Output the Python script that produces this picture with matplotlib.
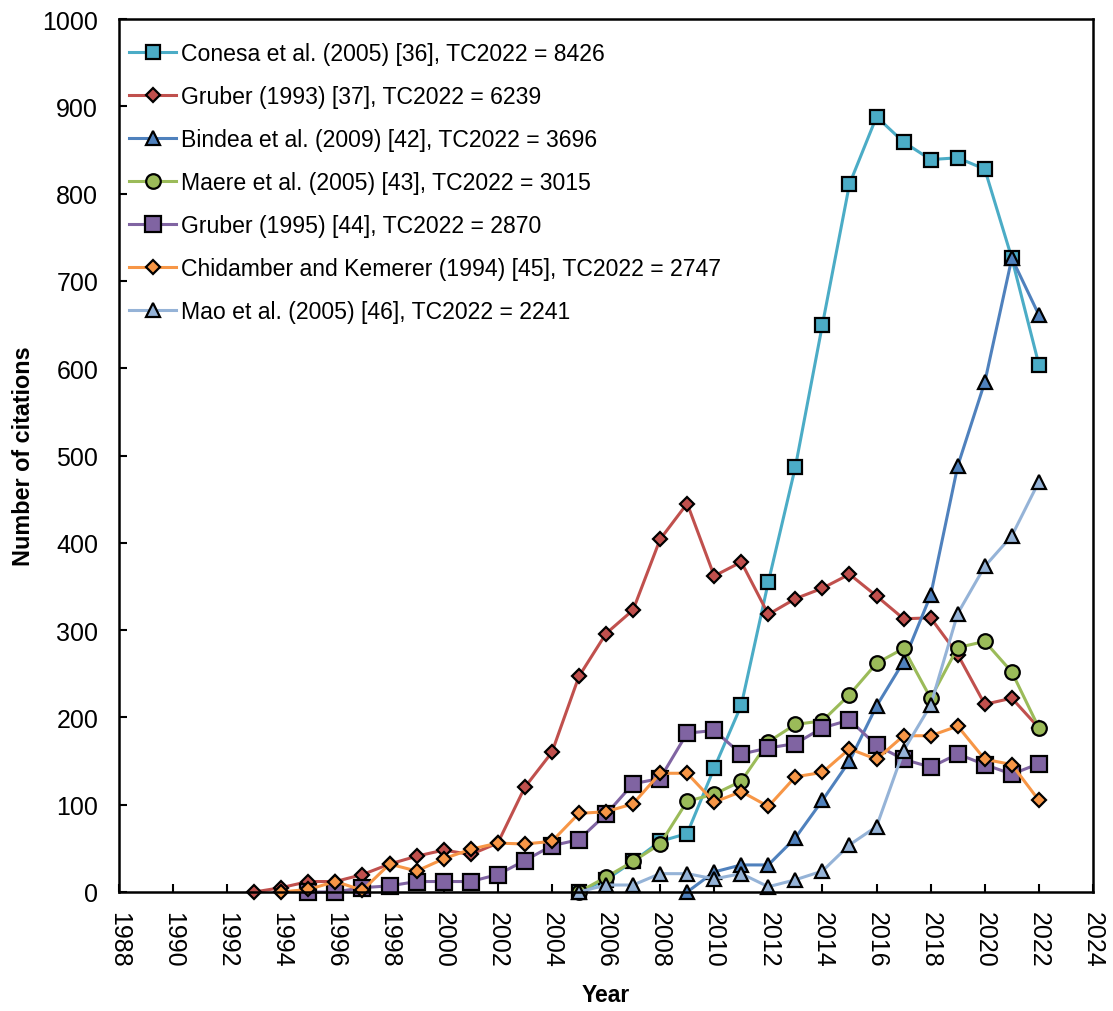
import matplotlib.pyplot as plt

plt.rcParams['font.family'] = ['Liberation Sans', 'DejaVu Sans']

# Yearly citation counts for the most cited papers
conesa_years = list(range(2005, 2023))
conesa = [0, 14, 35, 58, 67, 142, 214, 355, 487, 650, 811, 888, 859, 839, 841, 828, 726, 604]

gruber93_years = list(range(1993, 2023))
gruber93 = [0, 5, 12, 12, 20, 32, 41, 48, 43, 56, 120, 160, 247, 296, 323, 404, 445, 362, 378, 318,
            336, 348, 364, 339, 313, 314, 272, 215, 222, 188]

bindea_years = list(range(2009, 2023))
bindea = [0, 23, 31, 31, 62, 105, 150, 213, 264, 340, 488, 584, 726, 661]

maere_years = list(range(2005, 2023))
maere = [0, 17, 35, 55, 104, 112, 127, 172, 192, 196, 226, 262, 279, 222, 280, 287, 252, 188]

gruber95_years = list(range(1995, 2023))
gruber95 = [0, 0, 5, 7, 12, 12, 12, 20, 36, 53, 60, 89, 124, 130, 182, 185, 158, 165, 170, 188,
            197, 168, 152, 143, 158, 146, 135, 147]

chid_years = list(range(1994, 2023))
chid = [0, 3, 12, 2, 32, 24, 38, 49, 56, 55, 58, 90, 92, 101, 136, 136, 103, 115, 98, 132,
        137, 164, 152, 179, 179, 190, 152, 146, 105]

mao_years = list(range(2005, 2023))
mao = [0, 8, 8, 21, 21, 15, 21, 6, 14, 24, 54, 75, 162, 214, 319, 373, 408, 470]

labels = [
    'Conesa et al. (2005) [36], TC2022 = 8426',
    'Gruber (1993) [37], TC2022 = 6239',
    'Bindea et al. (2009) [42], TC2022 = 3696',
    'Maere et al. (2005) [43], TC2022 = 3015',
    'Gruber (1995) [44], TC2022 = 2870',
    'Chidamber and Kemerer (1994) [45], TC2022 = 2747',
    'Mao et al. (2005) [46], TC2022 = 2241',
]
colors = ['#4BACC6', '#C0504D', '#4F81BD', '#9BBB59', '#8064A2', '#F79646', '#95B3D7']
markers = ['s', 'D', '^', 'o', 's', 'D', '^']
sizes = [10, 7.5, 10, 10.5, 11, 7.5, 10]

series = [
    (conesa_years, conesa),
    (gruber93_years, gruber93),
    (bindea_years, bindea),
    (maere_years, maere),
    (gruber95_years, gruber95),
    (chid_years, chid),
    (mao_years, mao),
]

fig = plt.figure(figsize=(11.13, 10.12), dpi=100)
ax = fig.add_axes([119 / 1113, 1 - 893 / 1012, 974 / 1113, 873 / 1012])

for (x, y), lab, c, m, s in zip(series, labels, colors, markers, sizes):
    ax.plot(x, y, color=c, lw=2.2, marker=m, markersize=s, markerfacecolor=c,
            markeredgecolor='black', markeredgewidth=1.6, label=lab, clip_on=False)

ax.set_xlim(1988, 2024)
ax.set_ylim(0, 1000)
ax.set_xticks(range(1988, 2025, 2))
ax.set_yticks(range(0, 1001, 100))
ax.tick_params(direction='in', length=6, width=1.5, labelsize=18)
ax.tick_params(axis='x', pad=13.5)
ax.tick_params(axis='y', pad=15)
plt.setp(ax.get_xticklabels(), rotation=270)
for sp in ax.spines.values():
    sp.set_linewidth(1.8)

ax.set_xlabel('Year', fontsize=16.5, fontweight='bold', labelpad=12)
ax.set_ylabel('Number of citations', fontsize=16.8, fontweight='bold', labelpad=5)

ax.legend(loc='upper left', bbox_to_anchor=(-0.0135, 1.0), frameon=False, fontsize=16.6,
          handlelength=2.05, handletextpad=0.22, labelspacing=0.87, borderaxespad=0.6)

fig.savefig('out.png', dpi=100)
